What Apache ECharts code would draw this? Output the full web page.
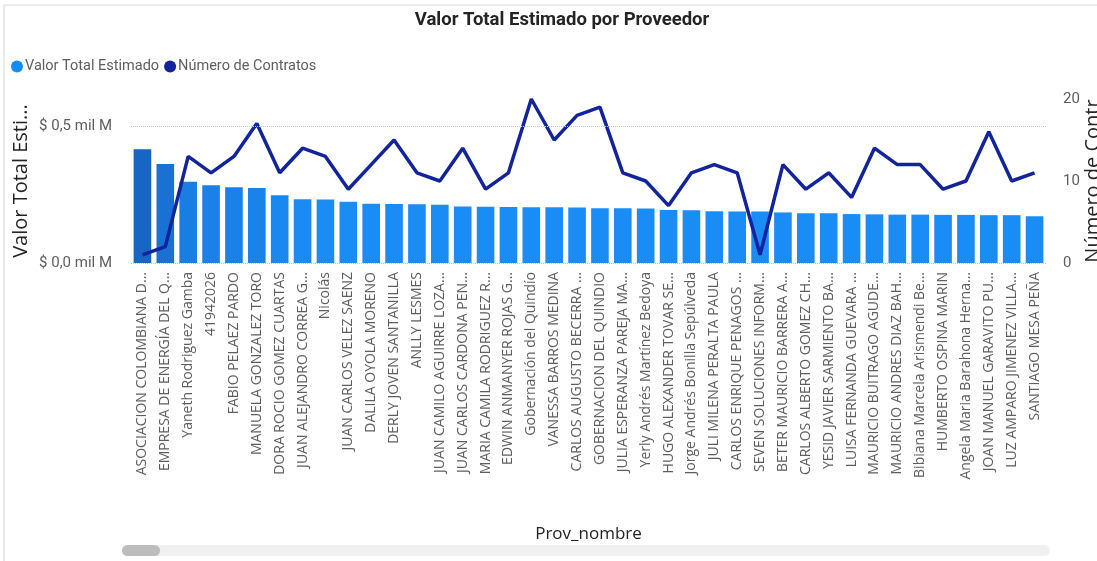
<!DOCTYPE html>
<html>
<head>
<meta charset="utf-8">
<script src="https://cdn.jsdelivr.net/npm/echarts@6/dist/echarts.min.js"></script>
<style>
  html, body { margin: 0; padding: 0; background: #fff; }
  #chart { width: 1097px; height: 561px; }
</style>
</head>
<body>
<div id="chart"></div>
<script>
// proveedores (texto tal como se ve, ya truncado)
var proveedores = [
  'ASOCIACION COLOMBIANA D...', 'EMPRESA DE ENERGÍA DEL Q...', 'Yaneth Rodriguez Gamba', '41942026',
  'FABIO PELAEZ PARDO', 'MANUELA GONZALEZ TORO', 'DORA ROCIO GOMEZ CUARTAS', 'JUAN ALEJANDRO CORREA G...',
  'Nicolás', 'JUAN CARLOS VELEZ SAENZ', 'DALILA OYOLA MORENO', 'DERLY JOVEN SANTANILLA',
  'ANLLY LESMES', 'JUAN CAMILO AGUIRRE LOZA...', 'JUAN CARLOS CARDONA PEN...', 'MARIA CAMILA RODRIGUEZ R...',
  'EDWIN ANMANYER ROJAS G...', 'Gobernación del Quindío', 'VANESSA BARROS MEDINA', 'CARLOS AUGUSTO BECERRA ...',
  'GOBERNACION DEL QUINDIO', 'JULIA ESPERANZA PAREJA MA...', 'Yerly Andrés Martínez Bedoya', 'HUGO ALEXANDER TOVAR SE...',
  'Jorge Andrés Bonilla Sepúlveda', 'JULI MILENA PERALTA PAULA', 'CARLOS ENRIQUE PENAGOS ...', 'SEVEN SOLUCIONES INFORM...',
  'BETER MAURICIO BARRERA A...', 'CARLOS ALBERTO GOMEZ CH...', 'YESID JAVIER SARMIENTO BA...', 'LUISA FERNANDA GUEVARA ...',
  'MAURICIO BUITRAGO AGUDE...', 'MAURICIO ANDRES DIAZ BAH...', 'Bibiana Marcela Arismendi Be...', 'HUMBERTO OSPINA MARIN',
  'Angela Maria Barahona Herna...', 'JOAN MANUEL GARAVITO PU...', 'LUZ AMPARO JIMENEZ VILLA...', 'SANTIAGO MESA PEÑA'
]

// valor total estimado, en mil millones
var valorTotal = [
  0.416, 0.362, 0.297, 0.284, 0.277, 0.274, 0.248, 0.233, 0.232, 0.224,
  0.217, 0.216, 0.215, 0.213, 0.207, 0.206, 0.205, 0.204, 0.204, 0.203,
  0.200, 0.200, 0.199, 0.194, 0.193, 0.189, 0.188, 0.188, 0.185, 0.182,
  0.182, 0.179, 0.178, 0.177, 0.177, 0.176, 0.176, 0.175, 0.175, 0.171
]

var numContratos = [
  1, 2, 13, 11, 13, 17, 11, 14, 13, 9,
  12, 15, 11, 10, 14, 9, 11, 20, 15, 18,
  19, 11, 10, 7, 11, 12, 11, 1, 12, 9,
  11, 8, 14, 12, 12, 9, 10, 16, 10, 11
]

var ticksValor = [0, 0.5]

var chart = echarts.init(document.getElementById('chart'))

var grisTexto = '#605E5C'
var fuente = 'Roboto'
var fuenteEjes = 'Open Sans'

// degradado tipo formato condicional de Power BI
function colorBarra(v) {
  var t = (v - 0.23) / (0.416 - 0.23)
  t = Math.max(0, Math.min(1, t))
  return echarts.color.lerp(t, ['#1A8CF6', '#1766C4'])
}

chart.setOption({
  animation: false,
  textStyle: { fontFamily: fuente },
  title: {
    text: 'Valor Total Estimado por Proveedor',
    left: 557,
    textAlign: 'center',
    top: 6,
    textStyle: { fontSize: 18.5, fontWeight: 'bold', color: '#252423', fontFamily: fuente }
  },
  legend: {
    left: 6,
    top: 54,
    icon: 'circle',
    itemWidth: 12,
    itemHeight: 12,
    itemGap: 5,
    textStyle: { fontSize: 14.5, color: grisTexto, padding: [0, 0, 0, -3] },
    data: [
      { name: 'Valor Total Estimado', itemStyle: { color: '#118DFF' } },
      { name: 'Número de Contratos', itemStyle: { color: '#12239E' } }
    ]
  },
  grid: {
    left: 131,
    right: 51,
    top: 99,
    bottom: 298,
    outerBoundsMode: 'none'
  },
  xAxis: {
    type: 'category',
    data: proveedores,
    name: 'Prov_nombre',
    nameLocation: 'middle',
    nameGap: 263,
    nameMoveOverlap: false,
    nameTextStyle: { fontSize: 17, color: '#252423', fontFamily: fuenteEjes },
    axisLine: { show: false },
    axisTick: { show: false },
    axisLabel: {
      rotate: 90,
      interval: 0,
      margin: 9,
      fontSize: 14,
      fontFamily: fuenteEjes,
      color: grisTexto
    }
  },
  yAxis: [
    {
      type: 'value',
      min: 0,
      max: 0.6,
      interval: 0.5,
      name: 'Valor Total Esti...',
      nameLocation: 'middle',
      nameRotate: 90,
      nameGap: 100,
      nameMoveOverlap: false,
      nameTextStyle: { fontSize: 20, color: '#252423', fontFamily: fuenteEjes },
      axisLine: { show: false },
      axisTick: { show: false },
      splitLine: { show: false },
      axisLabel: {
        margin: 19,
        fontSize: 15,
        color: grisTexto,
        formatter: function(v) {
          if (ticksValor.indexOf(v) < 0) {
            return ''
          }
          return '$ ' + v.toFixed(1).replace('.', ',') + ' mil M'
        }
      }
    },
    {
      type: 'value',
      min: 0,
      max: 20,
      interval: 10,
      position: 'right',
      name: 'Número de Contr',
      nameLocation: 'middle',
      nameRotate: 90,
      nameGap: 37,
      nameMoveOverlap: false,
      nameTextStyle: { fontSize: 20, color: '#252423', fontFamily: fuenteEjes },
      axisLine: { show: false },
      axisTick: { show: false },
      splitLine: { show: false },
      axisLabel: { margin: 17, fontSize: 15, color: grisTexto }
    }
  ],
  series: [
    {
      name: 'Valor Total Estimado',
      type: 'bar',
      yAxisIndex: 0,
      barCategoryGap: '23%',
      data: valorTotal,
      itemStyle: {
        color: function(p) {
          return colorBarra(p.value)
        }
      },
      markLine: {
        silent: true,
        symbol: 'none',
        label: { show: false },
        lineStyle: { color: '#C8C6C4', type: 'dotted', width: 1 },
        data: ticksValor.map(function(v) { return { yAxis: v } })
      },
      z: 2
    },
    {
      name: 'Número de Contratos',
      type: 'line',
      yAxisIndex: 1,
      data: numContratos,
      showSymbol: false,
      symbol: 'none',
      itemStyle: { color: '#12239E' },
      lineStyle: { color: '#12239E', width: 3.5 },
      z: 3
    }
  ],
  graphic: [
    {
      type: 'rect',
      shape: { x: 4, y: 5, width: 1200, height: 700 },
      style: { fill: 'none', stroke: '#D6D6D6', lineWidth: 1 },
      silent: true
    },
    {
      type: 'rect',
      shape: { x: 122, y: 545, width: 928, height: 11, r: 5.5 },
      style: { fill: '#F0F0F0' },
      silent: true
    },
    {
      type: 'rect',
      shape: { x: 122, y: 545, width: 38, height: 11, r: 5.5 },
      style: { fill: '#BDBDBD' },
      silent: true
    }
  ]
})
</script>
</body>
</html>
